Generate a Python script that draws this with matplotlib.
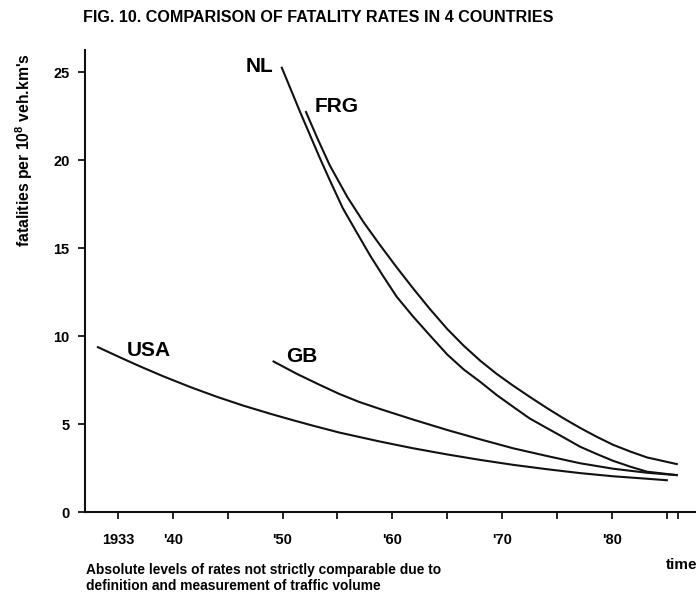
import matplotlib
matplotlib.use("Agg")
import matplotlib.pyplot as plt

plt.rcParams['font.family'] = ['Liberation Sans', 'DejaVu Sans']
plt.rcParams['font.weight'] = 'bold'
plt.rcParams['mathtext.fontset'] = 'custom'
plt.rcParams['mathtext.rm'] = 'Liberation Sans:bold'
plt.rcParams['mathtext.bf'] = 'Liberation Sans:bold'
plt.rcParams['mathtext.it'] = 'Liberation Sans:bold'

# ---- data ----
nl_years = [1949.9, 1950.7, 1951.6, 1952.5, 1953.4, 1954.3, 1955.5, 1956.8, 1958.0,
            1959.2, 1960.4, 1961.9, 1963.4, 1965.0, 1966.5, 1968.0, 1969.5, 1971.0,
            1972.5, 1974.1, 1975.6, 1977.1, 1978.6, 1980.1, 1981.7, 1983.2, 1986.0]
nl_rates = [25.30, 24.09, 22.73, 21.42, 20.11, 18.86, 17.25, 15.84, 14.55,
            13.37, 12.23, 11.10, 10.05, 8.95, 8.10, 7.40, 6.65, 5.98,
            5.32, 4.76, 4.24, 3.71, 3.30, 2.91, 2.57, 2.29, 2.09]

frg_years = [1952.1, 1953.2, 1954.3, 1955.9, 1957.4, 1958.9, 1960.4, 1961.9, 1963.4,
             1965.0, 1966.5, 1968.0, 1969.5, 1971.0, 1972.5, 1974.1, 1975.6, 1977.1,
             1978.6, 1980.1, 1981.7, 1983.2, 1986.0]
frg_rates = [22.78, 21.20, 19.70, 17.90, 16.45, 15.15, 13.90, 12.70, 11.55,
             10.40, 9.45, 8.60, 7.85, 7.18, 6.55, 5.90, 5.32, 4.78,
             4.28, 3.82, 3.43, 3.10, 2.71]

gb_years = [1949.1, 1951.3, 1953.4, 1955.2, 1957.0, 1958.9, 1961.9, 1965.0, 1968.0,
            1971.0, 1974.1, 1977.1, 1980.1, 1983.2, 1986.0]
gb_rates = [8.58, 7.85, 7.22, 6.70, 6.25, 5.85, 5.25, 4.66, 4.13,
            3.62, 3.18, 2.77, 2.46, 2.23, 2.09]

usa_years = [1933.1, 1935.5, 1937.0, 1939.1, 1941.6, 1944.0, 1946.4, 1948.9, 1950.7,
             1952.8, 1955.2, 1958.9, 1961.9, 1965.0, 1968.0, 1971.0, 1974.1, 1977.1,
             1980.1, 1983.2, 1985.1]
usa_rates = [9.39, 8.70, 8.28, 7.72, 7.10, 6.55, 6.05, 5.58, 5.26,
             4.90, 4.51, 4.00, 3.62, 3.27, 2.96, 2.68, 2.43, 2.21,
             2.03, 1.89, 1.80]

x_ticks = [1935, 1940, 1945, 1950, 1955, 1960, 1965, 1970, 1975, 1980, 1985, 1986]
x_tick_labels = ["1933", "'40", "", "'50", "", "'60", "", "'70", "", "'80", "", ""]
y_ticks = [0, 5, 10, 15, 20, 25]

series = [("NL", nl_years, nl_rates, 1947.86, 25.31),
          ("FRG", frg_years, frg_rates, 1954.92, 23.04),
          ("GB", gb_years, gb_rates, 1951.75, 8.82),
          ("USA", usa_years, usa_rates, 1937.78, 9.15)]

# ---- figure ----
W, H = 696, 599
fig = plt.figure(figsize=(W / 100, H / 100), dpi=100)
ax = fig.add_axes([85 / W, (H - 512) / H, (W - 85) / W, (512 - 50) / H])
ax.set_xlim(1932.01, 1987.66)
ax.set_ylim(0, 26.25)

for name, xs, ys, lx, ly in series:
    ax.plot(xs, ys, color='#111111', lw=1.5, solid_capstyle='butt',
            solid_joinstyle='round')
    ax.text(lx, ly, name, fontsize=15, fontweight='bold', ha='center', va='center')

for s in ['top', 'right']:
    ax.spines[s].set_visible(False)
for s in ['left', 'bottom']:
    ax.spines[s].set_linewidth(1.5)
    ax.spines[s].set_color('#111111')

ax.set_xticks(x_ticks)
ax.set_xticklabels(x_tick_labels)
ax.set_yticks(y_ticks)
ax.tick_params(axis='x', direction='out', length=5, width=1.2, pad=10, labelsize=10.5)
ax.tick_params(axis='y', direction='out', length=5, width=1.2, pad=6, labelsize=10.5)
for lab in ax.get_xticklabels() + ax.get_yticklabels():
    lab.set_fontweight('bold')

fig.text(318 / W, 1 - 17 / H, "FIG. 10. COMPARISON OF FATALITY RATES IN 4 COUNTRIES",
         fontsize=11.6, fontweight='bold', ha='center', va='center')
fig.text(24 / W, 1 - 150 / H, r"fatalities per 10$^{8}$ veh.km's", rotation=90,
         fontsize=11.3, fontweight='bold', ha='center', va='center')
fig.text(666 / W, 1 - 565 / H, "time", fontsize=11, fontweight='bold',
         ha='left', va='center')
fig.text(86 / W, 1 - 570 / H, "Absolute levels of rates not strictly comparable due to",
         fontsize=9.9, fontweight='bold', ha='left', va='center')
fig.text(86 / W, 1 - 586 / H, "definition and measurement of traffic volume",
         fontsize=9.9, fontweight='bold', ha='left', va='center')

fig.savefig("out.png", dpi=100)
